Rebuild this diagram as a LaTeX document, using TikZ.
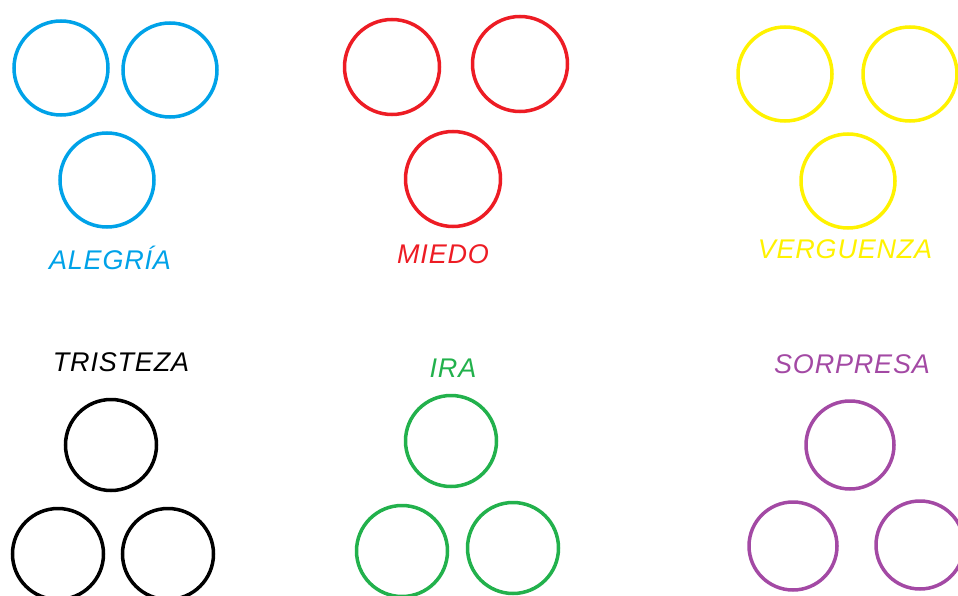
\documentclass[tikz,border=0pt]{standalone}
\usepackage{fontspec}
\newfontfamily\wordfont[LetterSpace=3]{Liberation Sans}
\usepackage{xcolor}
\definecolor{alegria}{HTML}{00A2E8}
\definecolor{miedo}{HTML}{ED1C24}
\definecolor{verguenza}{HTML}{FFF200}
\definecolor{tristeza}{HTML}{000000}
\definecolor{ira}{HTML}{22B14C}
\definecolor{sorpresa}{HTML}{A349A4}

\begin{document}
\begin{tikzpicture}[x=1pt, y=-1pt,
  ring/.style={circle, draw, line width=3.5pt, inner sep=0pt},
  word/.style={font=\wordfont\itshape\fontsize{27}{27}\selectfont}]
  \useasboundingbox (0,0) rectangle (958,596);
  % top row
  \foreach \n/\x/\y in {a1/61/68, a2/170/70, a3/107/180} {
    \node[ring, draw=alegria, minimum size=94pt] (\n) at (\x,\y) {};
  }
  \foreach \n/\x/\y in {m1/392/67, m2/520/64, m3/453/179} {
    \node[ring, draw=miedo, minimum size=95pt] (\n) at (\x,\y) {};
  }
  \foreach \n/\x/\y in {v1/785/74, v2/910/74, v3/848/181} {
    \node[ring, draw=verguenza, minimum size=94pt] (\n) at (\x,\y) {};
  }
  \node[word, text=alegria] (alegria) at (110,258) {ALEGRÍA};
  \node[word, text=miedo] (miedo) at (443,254) {MIEDO};
  \node[word, text=verguenza] (verguenza) at (845,249) {VERGUENZA};
  % bottom row
  \node[word, text=tristeza] (tristeza) at (121,362) {TRISTEZA};
  \node[word, text=ira] (ira) at (453,368) {IRA};
  \node[word, text=sorpresa] (sorpresa) at (852,364) {SORPRESA};
  \foreach \n/\x/\y in {t1/111/445, t2/58/554, t3/168/554} {
    \node[ring, draw=tristeza, minimum size=91pt] (\n) at (\x,\y) {};
  }
  \foreach \n/\x/\y in {i1/451/441, i2/402/551, i3/513/548} {
    \node[ring, draw=ira, minimum size=91pt] (\n) at (\x,\y) {};
  }
  \foreach \n/\x/\y in {s1/850/445, s2/793/546, s3/920/545} {
    \node[ring, draw=sorpresa, minimum size=88pt] (\n) at (\x,\y) {};
  }
\end{tikzpicture}
\end{document}
